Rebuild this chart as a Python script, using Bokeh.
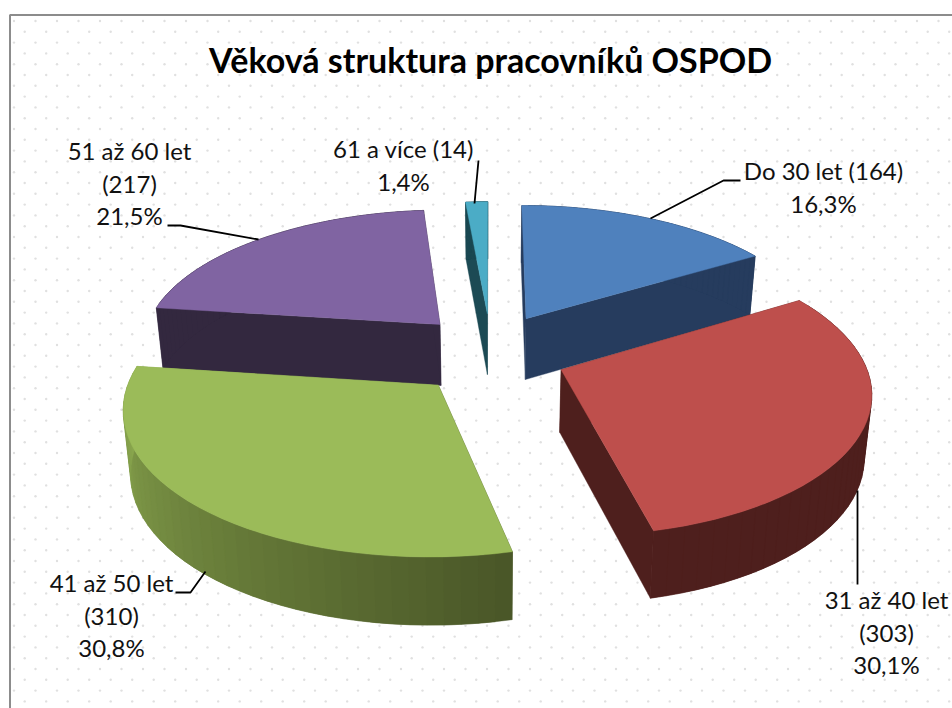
import numpy as np
from bokeh.core.properties import value
from bokeh.embed import file_html
from bokeh.models import ColumnDataSource, Range1d
from bokeh.plotting import figure
from bokeh.resources import INLINE

# ---- data ----
TITLE = "Věková struktura pracovníků OSPOD"
categories = ["Do 30 let", "31 až 40 let", "41 až 50 let", "51 až 60 let", "61 a více"]
counts = [164, 303, 310, 217, 14]
percents = ["16,3%", "30,1%", "30,8%", "21,5%", "1,4%"]

# ---- styles ----
top_colors = ["#4f81bd", "#be4f4c", "#9bbb59", "#8064a2", "#4bacc6"]
wall_start = ["#263c5e", "#4e1f1d", "#4a5728", "#33283f", "#1c4a54"]
wall_end = ["#263c5e", "#4e1f1d", "#8dab50", "#33283f", "#1c4a54"]
draw_order = [4, 3, 0, 2, 1]

# ---- projection of the exploded 3-D pie ----
CX, CY, AX, AY, K, DEPTH = 490.0, 353.0, 301.0, 138.0, 0.14, 62.0
EX_X, EX_Y, BOTTOM_SCALE = 0.25, 0.30, 0.98


def project(X, Y):
    w = 1 + K * Y
    return CX + AX * X / w, CY - AY * Y / w, w


def lower(sx, sy, w):
    return CX + (sx - CX) * BOTTOM_SCALE, sy + DEPTH / np.sqrt(w)


def mix(c1, c2, t):
    a = [int(c1[i:i + 2], 16) for i in (1, 3, 5)]
    b = [int(c2[i:i + 2], 16) for i in (1, 3, 5)]
    return "#%02x%02x%02x" % tuple(round(p + (q - p) * t) for p, q in zip(a, b))


total = sum(counts)
edges = np.concatenate([[0], np.cumsum(counts)]) / total * 2 * np.pi

xs, ys, fills, strokes = [], [], [], []


def add(px, py, color, stroke=None):
    xs.append(list(px))
    ys.append(list(py))
    fills.append(color)
    strokes.append(stroke or color)


for i in draw_order:
    a0, a1 = edges[i], edges[i + 1]
    mid = (a0 + a1) / 2
    ox, oy = EX_X * np.sin(mid), EX_Y * np.cos(mid)
    t = np.linspace(a0, a1, 41)
    sx, sy, w = project(ox + np.sin(t), oy + np.cos(t))
    bx, by = lower(sx, sy, w)
    ax_, ay_, aw = project(np.array([ox]), np.array([oy]))
    abx, aby = lower(ax_, ay_, aw)
    # cut faces
    add([ax_[0], sx[0], bx[0], abx[0]], [ay_[0], sy[0], by[0], aby[0]], wall_start[i])
    add([ax_[0], sx[-1], bx[-1], abx[0]], [ay_[0], sy[-1], by[-1], aby[0]], wall_end[i])
    # rim wall: overlapping bands so that no seams show
    n = len(t)
    for j in range(n - 1):
        e = min(j + 2, n - 1)
        col = mix(wall_start[i], wall_end[i], j / (n - 2))
        add(np.r_[sx[j:e + 1], bx[j:e + 1][::-1]], np.r_[sy[j:e + 1], by[j:e + 1][::-1]], col)
    # top face
    add(np.r_[ax_, sx], np.r_[ay_, sy], top_colors[i])

# ---- page: data space equals window pixels ----
p = figure(width=952, height=708, output_backend="svg", toolbar_location=None,
           x_range=Range1d(0, 952), y_range=Range1d(708, 0),
           min_border=0, outline_line_color=None, background_fill_color="white",
           border_fill_color="white")
p.axis.visible = False
p.grid.visible = False

# dotted chart background
dx, dy = [], []
for r, yy in enumerate(np.arange(20.5, 708, 10.8)):
    start = 13.5 if r % 2 == 0 else 24.2
    for xx in np.arange(start, 952, 21.5):
        dx.append(xx)
        dy.append(yy)
p.scatter(dx, dy, marker="circle", size=2.4, fill_color="#e0e0e0", line_color=None)

# chart frame
p.line([9.5, 9.5, 952], [708, 14.5, 14.5], line_color="#8c8c8c", line_width=2)

p.patches("xs", "ys", source=ColumnDataSource(dict(xs=xs, ys=ys, fill=fills, stroke=strokes)),
          fill_color="fill", line_color="stroke", line_width=0.4)

# leader lines
leaders = [
    ([650, 723, 740], [218, 180, 180]),
    ([857, 857], [490, 584]),
    ([175, 190, 205], [592, 592, 571]),
    ([167, 180, 258], [225, 225, 239]),
    ([474, 478], [203, 160]),
]
for lx, ly in leaders:
    p.line(lx, ly, line_color="black", line_width=1.8)

LABEL_FONT = "Lato"
label_pos = [(823, 170), (886, 599), (111, 582), (129, 150), (403, 148)]
lab_x, lab_y, lab_t = [], [], []
labels_text = [
    [f"{categories[0]} ({counts[0]})", percents[0]],
    [categories[1], f"({counts[1]})", percents[1]],
    [categories[2], f"({counts[2]})", percents[2]],
    [categories[3], f"({counts[3]})", percents[3]],
    [f"{categories[4]} ({counts[4]})", percents[4]],
]
for (x0, y0), lines in zip(label_pos, labels_text):
    for n, s in enumerate(lines):
        lab_x.append(x0)
        lab_y.append(y0 + n * 32.7)
        lab_t.append(s)
p.text(lab_x, lab_y, text=lab_t, text_font=value(LABEL_FONT), text_font_size="24px",
       text_color="#111111", text_align="center", text_baseline="middle")
p.text([490], [59], text=[TITLE], text_font=value(LABEL_FONT), text_font_size="34px",
       text_font_style="bold", text_color="#000000", text_align="center", text_baseline="middle")

open("out.html", "w").write(file_html(p, INLINE))
